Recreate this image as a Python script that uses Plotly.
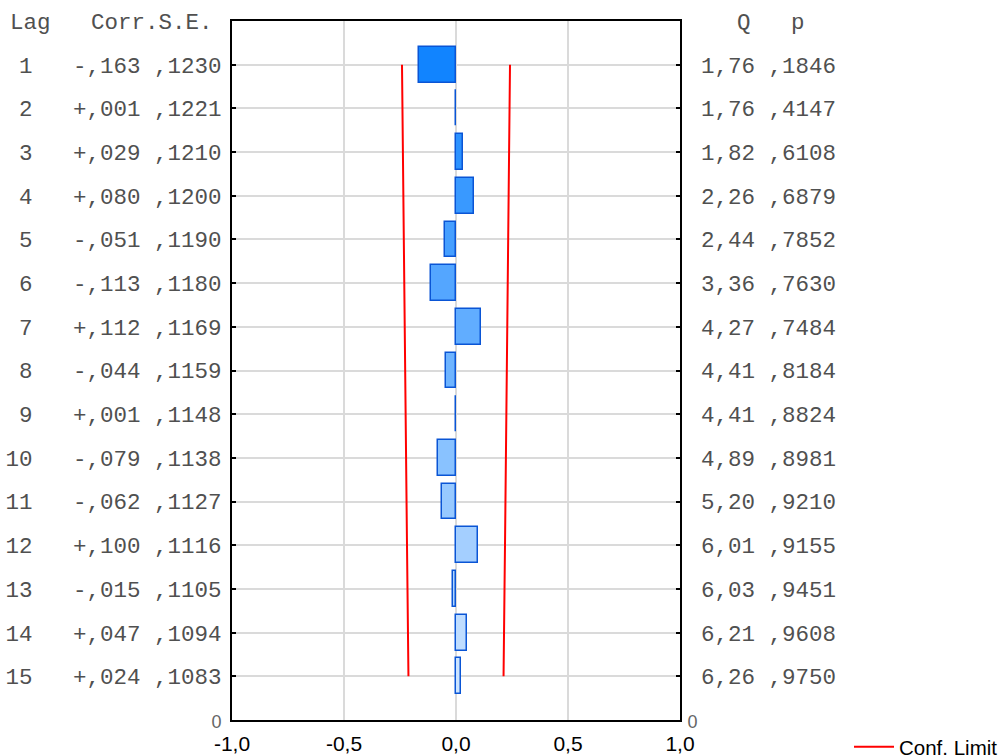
import plotly.graph_objects as go

lags = list(range(1, 16))
corr = [-0.163, 0.001, 0.029, 0.080, -0.051, -0.113, 0.112, -0.044, 0.001, -0.079, -0.062, 0.100, -0.015, 0.047, 0.024]
se = [0.1230, 0.1221, 0.1210, 0.1200, 0.1190, 0.1180, 0.1169, 0.1159, 0.1148, 0.1138, 0.1127, 0.1116, 0.1105, 0.1094, 0.1083]
q_stat = [1.76, 1.76, 1.82, 2.26, 2.44, 3.36, 4.27, 4.41, 4.41, 4.89, 5.20, 6.01, 6.03, 6.21, 6.26]
p_val = [0.1846, 0.4147, 0.6108, 0.6879, 0.7852, 0.7630, 0.7484, 0.8184, 0.8824, 0.8981, 0.9210, 0.9155, 0.9451, 0.9608, 0.9750]
x_ticks = [-1.0, -0.5, 0.0, 0.5, 1.0]
x_tick_labels = ["-1,0", "-0,5", "0,0", "0,5", "1,0"]

NB = "\u00a0"
TOP = len(lags) + 1  # axis runs 0 (bottom) .. 16 (top); lag 1 sits at the top

def fmt_corr(v):
    s = "+" if v >= 0 else "-"
    return s + ("%.3f" % abs(v))[1:].replace(".", ",")

def fmt_se(v):
    return ("%.4f" % v)[1:].replace(".", ",")

def fmt_q(v):
    return ("%.2f" % v).replace(".", ",").rjust(5, NB)

ypos = [TOP - l for l in lags]
zero_lbl = '<span style="font-family:Liberation Sans, Arial;font-size:18px;fill:#666666">0</span>'
tickvals = [0] + ypos
left_text = [zero_lbl] + [
    str(l).rjust(2, NB) + NB * 3 + fmt_corr(c) + NB + fmt_se(s)
    for l, c, s in zip(lags, corr, se)
]
right_text = [zero_lbl] + [fmt_q(q) + NB + fmt_se(p) for q, p in zip(q_stat, p_val)]

# gradient fill colors, top (dark) to bottom (light)
c0 = (17, 132, 255)
c1 = (204, 228, 255)
n = len(lags)
fills = []
for i in range(n):
    t = i / (n - 1)
    rgb = tuple(round(a + (b - a) * t) for a, b in zip(c0, c1))
    fills.append("rgb(%d,%d,%d)" % rgb)

fig = go.Figure()
fig.add_trace(go.Bar(
    x=corr, y=ypos, orientation="h", width=0.82,
    marker=dict(color=fills, line=dict(color="#0A55D5", width=1.5)),
    showlegend=False, hoverinfo="x",
))

lim_x = [-1.96 * s for s in se] + [None] + [1.96 * s for s in se]
lim_y = ypos + [None] + ypos
fig.add_trace(go.Scatter(
    x=lim_x, y=lim_y, mode="lines", line=dict(color="#FF0000", width=2),
    name="Conf. Limit", showlegend=True,
))
fig.add_trace(go.Scatter(
    x=[0], y=[0], yaxis="y2", mode="markers", marker=dict(opacity=0),
    showlegend=False, hoverinfo="skip",
))

L, R, T, B = 232, 680, 21, 720
W, H = 1004, 755
pw, ph = R - L, B - T

mono = dict(family="Liberation Mono, Courier New, monospace", size=22.5, color="#505050")

fig.update_layout(
    width=W, height=H,
    margin=dict(l=L, r=W - R, t=T, b=H - B, pad=0, autoexpand=False),
    paper_bgcolor="white", plot_bgcolor="white",
    bargap=0,
    xaxis=dict(
        range=[-1, 1], tickvals=x_ticks, ticktext=x_tick_labels, automargin=False,
        showgrid=True, gridcolor="#DADADA", gridwidth=2, zeroline=False,
        showline=True, mirror=True, linecolor="black", linewidth=2,
        ticks="", tickfont=dict(family="Liberation Sans, Arial", size=21, color="black"),
        ticklabelstandoff=4,
    ),
    yaxis=dict(
        range=[0, TOP], tickvals=tickvals, ticktext=left_text, automargin=False,
        showgrid=True, gridcolor="#DADADA", gridwidth=2, zeroline=False,
        showline=True, mirror=True, linecolor="black", linewidth=2,
        ticks="inside", ticklen=4, tickwidth=2, tickcolor="black",
        tickfont=mono, ticklabelstandoff=4,
    ),
    yaxis2=dict(
        range=[0, TOP], tickvals=tickvals, ticktext=right_text, automargin=False,
        overlaying="y", side="right", showgrid=False, zeroline=False,
        showline=True, linecolor="black", linewidth=2,
        ticks="inside", ticklen=4, tickwidth=2, tickcolor="black",
        tickfont=mono, ticklabelstandoff=1,
    ),
    legend=dict(
        x=(849 - L) / pw, y=-(747 - B) / ph, xanchor="left", yanchor="middle",
        font=dict(family="Liberation Sans, Arial", size=20.5, color="black"),
        bgcolor="rgba(0,0,0,0)", itemwidth=40,
    ),
    annotations=[
        dict(text="Lag" + NB * 3 + "Corr.S.E.", xref="paper", yref="paper",
             x=(8 - L) / pw, y=(B - 23) / ph, xanchor="left", yanchor="middle",
             showarrow=False, font=mono),
        dict(text="Q" + NB * 3 + "p", xref="paper", yref="paper",
             x=(735 - L) / pw, y=(B - 23) / ph, xanchor="left", yanchor="middle",
             showarrow=False, font=mono),
    ],
)

fig.write_html(
    "out.html",
    config={"displayModeBar": False},
    post_script="document.body.style.margin='0';document.body.style.overflow='hidden';",
)
